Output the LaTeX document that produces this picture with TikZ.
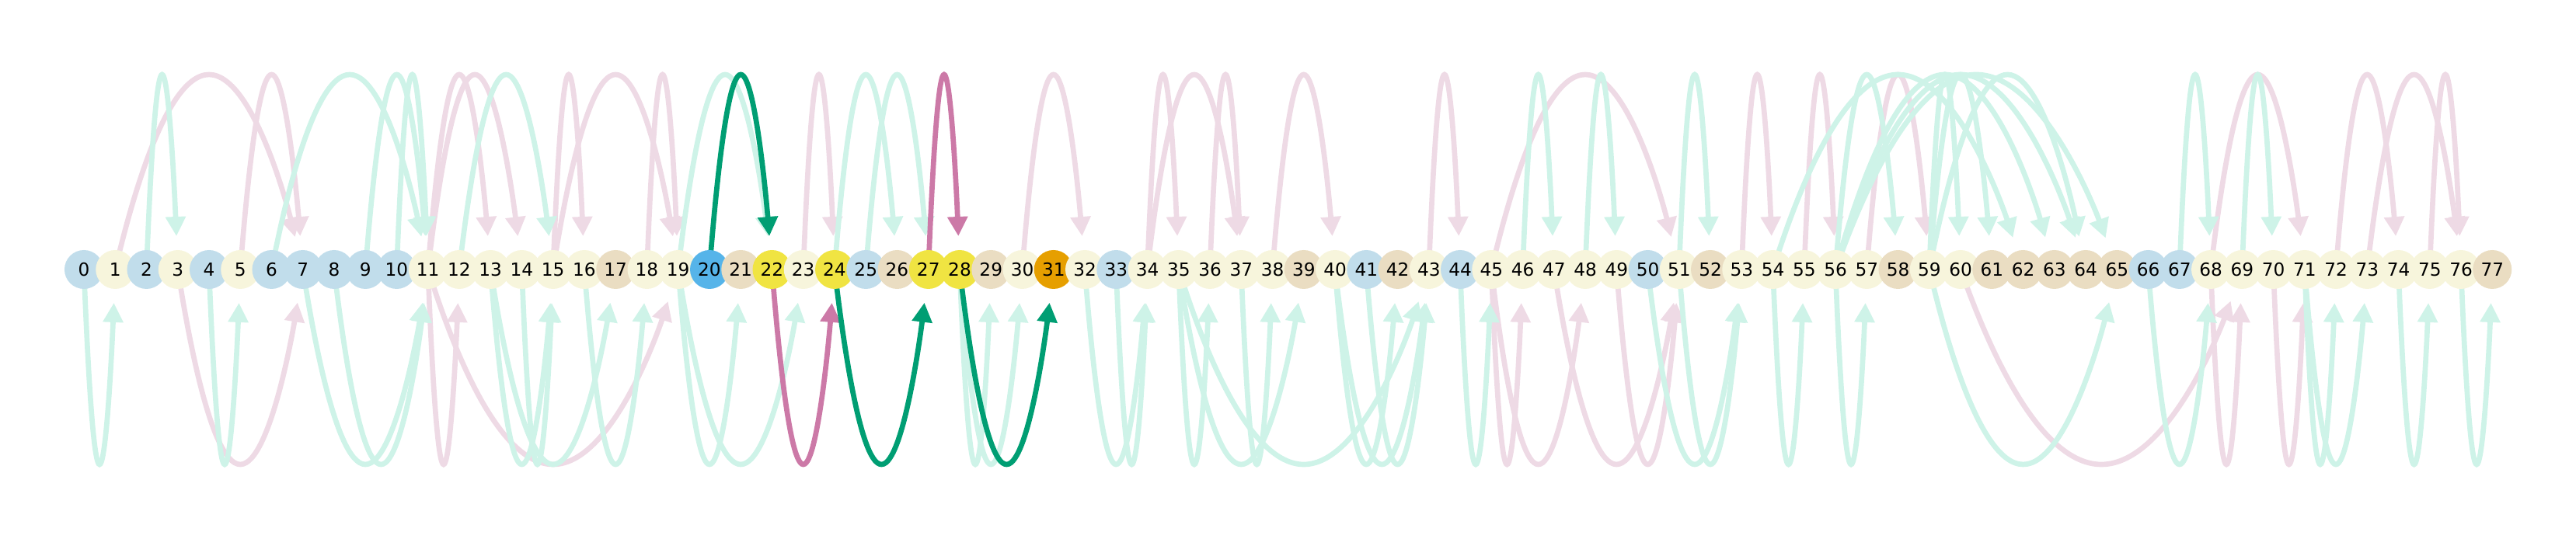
\documentclass[tikz,border=0pt]{standalone}
\usepackage{fontspec}
\setmainfont{DejaVu Sans}
\usetikzlibrary{arrows.meta,calc,backgrounds}

\definecolor{paleblue}{HTML}{C1DDEB}
\definecolor{paleyellow}{HTML}{F7F5DC}
\definecolor{sand}{HTML}{EADDC2}
\definecolor{skyblue}{HTML}{56B4E9}
\definecolor{lemon}{HTML}{F0E442}
\definecolor{amber}{HTML}{E69F00}
\definecolor{mint}{HTML}{CEF3E8}
\definecolor{blush}{HTML}{EEDAE5}
\definecolor{bluishgreen}{HTML}{009E73}
\definecolor{reddishpurple}{HTML}{CC79A7}

\tikzset{
  nd/.style={circle, minimum size=5mm, inner sep=0pt, font=\fontsize{6.6}{8}\selectfont},
  pb/.style={nd, fill=paleblue},
  py/.style={nd, fill=paleyellow},
  sd/.style={nd, fill=sand},
  sk/.style={nd, fill=skyblue},
  lm/.style={nd, fill=lemon},
  am/.style={nd, fill=amber},
  link/.style={line width=0.67mm, shorten >=4.3mm, -{Triangle[length=2.5mm,width=2.5mm]}},
  arcup/.style={link, to path={(\tikztostart.center) parabola bend ($(\tikztostart)!0.5!(\tikztotarget)+(0,2.51)$) (\tikztotarget.center)}},
  arcdn/.style={link, to path={(\tikztostart.center) parabola bend ($(\tikztostart)!0.5!(\tikztotarget)+(0,-2.51)$) (\tikztotarget.center)}},
}

\begin{document}
\begin{tikzpicture}[x=4.025mm, y=1cm]
  \useasboundingbox (-2.683,-3.47) rectangle (79.677,3.47);
  \draw
    (0,0) node[pb] (0){0}
    (1,0) node[py] (1){1}
    (2,0) node[pb] (2){2}
    (3,0) node[py] (3){3}
    (4,0) node[pb] (4){4}
    (5,0) node[py] (5){5}
    (6,0) node[pb] (6){6}
    (7,0) node[pb] (7){7}
    (8,0) node[pb] (8){8}
    (9,0) node[pb] (9){9}
    (10,0) node[pb] (10){10}
    (11,0) node[py] (11){11}
    (12,0) node[py] (12){12}
    (13,0) node[py] (13){13}
    (14,0) node[py] (14){14}
    (15,0) node[py] (15){15}
    (16,0) node[py] (16){16}
    (17,0) node[sd] (17){17}
    (18,0) node[py] (18){18}
    (19,0) node[py] (19){19}
    (20,0) node[sk] (20){20}
    (21,0) node[sd] (21){21}
    (22,0) node[lm] (22){22}
    (23,0) node[py] (23){23}
    (24,0) node[lm] (24){24}
    (25,0) node[pb] (25){25}
    (26,0) node[sd] (26){26}
    (27,0) node[lm] (27){27}
    (28,0) node[lm] (28){28}
    (29,0) node[sd] (29){29}
    (30,0) node[py] (30){30}
    (31,0) node[am] (31){31}
    (32,0) node[py] (32){32}
    (33,0) node[pb] (33){33}
    (34,0) node[py] (34){34}
    (35,0) node[py] (35){35}
    (36,0) node[py] (36){36}
    (37,0) node[py] (37){37}
    (38,0) node[py] (38){38}
    (39,0) node[sd] (39){39}
    (40,0) node[py] (40){40}
    (41,0) node[pb] (41){41}
    (42,0) node[sd] (42){42}
    (43,0) node[py] (43){43}
    (44,0) node[pb] (44){44}
    (45,0) node[py] (45){45}
    (46,0) node[py] (46){46}
    (47,0) node[py] (47){47}
    (48,0) node[py] (48){48}
    (49,0) node[py] (49){49}
    (50,0) node[pb] (50){50}
    (51,0) node[py] (51){51}
    (52,0) node[sd] (52){52}
    (53,0) node[py] (53){53}
    (54,0) node[py] (54){54}
    (55,0) node[py] (55){55}
    (56,0) node[py] (56){56}
    (57,0) node[py] (57){57}
    (58,0) node[sd] (58){58}
    (59,0) node[py] (59){59}
    (60,0) node[py] (60){60}
    (61,0) node[sd] (61){61}
    (62,0) node[sd] (62){62}
    (63,0) node[sd] (63){63}
    (64,0) node[sd] (64){64}
    (65,0) node[sd] (65){65}
    (66,0) node[pb] (66){66}
    (67,0) node[pb] (67){67}
    (68,0) node[py] (68){68}
    (69,0) node[py] (69){69}
    (70,0) node[py] (70){70}
    (71,0) node[py] (71){71}
    (72,0) node[py] (72){72}
    (73,0) node[py] (73){73}
    (74,0) node[py] (74){74}
    (75,0) node[py] (75){75}
    (76,0) node[py] (76){76}
    (77,0) node[sd] (77){77};
  \begin{scope}[on background layer]
    \begin{scope}[blush]
      \draw[arcup] (1) to (7);
      \draw[arcup] (5) to (7);
      \draw[arcup] (11) to (13);
      \draw[arcup] (11) to (14);
      \draw[arcup] (15) to (16);
      \draw[arcup] (15) to (19);
      \draw[arcup] (18) to (19);
      \draw[arcup] (23) to (24);
      \draw[arcup] (30) to (32);
      \draw[arcup] (34) to (35);
      \draw[arcup] (34) to (37);
      \draw[arcup] (36) to (37);
      \draw[arcup] (38) to (40);
      \draw[arcup] (43) to (44);
      \draw[arcup] (45) to (51);
      \draw[arcup] (53) to (54);
      \draw[arcup] (55) to (56);
      \draw[arcup] (57) to (59);
      \draw[arcup] (68) to (71);
      \draw[arcup] (72) to (74);
      \draw[arcup] (73) to (76);
      \draw[arcup] (75) to (76);
      \draw[arcdn] (3) to (7);
      \draw[arcdn] (11) to (12);
      \draw[arcdn] (11) to (19);
      \draw[arcdn] (45) to (46);
      \draw[arcdn] (45) to (48);
      \draw[arcdn] (47) to (51);
      \draw[arcdn] (49) to (51);
      \draw[arcdn] (60) to (69);
      \draw[arcdn] (68) to (69);
      \draw[arcdn] (70) to (71);
    \end{scope}
    \begin{scope}[mint]
      \draw[arcup] (2) to (3);
      \draw[arcup] (6) to (11);
      \draw[arcup] (9) to (11);
      \draw[arcup] (10) to (11);
      \draw[arcup] (12) to (15);
      \draw[arcup] (19) to (22);
      \draw[arcup] (24) to (26);
      \draw[arcup] (25) to (27);
      \draw[arcup] (46) to (47);
      \draw[arcup] (48) to (49);
      \draw[arcup] (51) to (52);
      \draw[arcup] (54) to (62);
      \draw[arcup] (56) to (58);
      \draw[arcup] (56) to (63);
      \draw[arcup] (56) to (64);
      \draw[arcup] (56) to (65);
      \draw[arcup] (59) to (60);
      \draw[arcup] (59) to (61);
      \draw[arcup] (59) to (64);
      \draw[arcup] (67) to (68);
      \draw[arcup] (69) to (70);
      \draw[arcdn] (0) to (1);
      \draw[arcdn] (4) to (5);
      \draw[arcdn] (7) to (11);
      \draw[arcdn] (8) to (11);
      \draw[arcdn] (13) to (15);
      \draw[arcdn] (14) to (15);
      \draw[arcdn] (13) to (17);
      \draw[arcdn] (16) to (18);
      \draw[arcdn] (19) to (21);
      \draw[arcdn] (19) to (23);
      \draw[arcdn] (28) to (29);
      \draw[arcdn] (28) to (30);
      \draw[arcdn] (32) to (34);
      \draw[arcdn] (33) to (34);
      \draw[arcdn] (35) to (36);
      \draw[arcdn] (35) to (39);
      \draw[arcdn] (35) to (43);
      \draw[arcdn] (37) to (38);
      \draw[arcdn] (40) to (42);
      \draw[arcdn] (40) to (43);
      \draw[arcdn] (41) to (43);
      \draw[arcdn] (44) to (45);
      \draw[arcdn] (50) to (53);
      \draw[arcdn] (51) to (53);
      \draw[arcdn] (54) to (55);
      \draw[arcdn] (56) to (57);
      \draw[arcdn] (59) to (65);
      \draw[arcdn] (66) to (68);
      \draw[arcdn] (71) to (72);
      \draw[arcdn] (71) to (73);
      \draw[arcdn] (74) to (75);
      \draw[arcdn] (76) to (77);
    \end{scope}
    % highlighted path
    \draw[arcup, bluishgreen] (20) to (22);
    \draw[arcdn, reddishpurple] (22) to (24);
    \draw[arcdn, bluishgreen] (24) to (27);
    \draw[arcup, reddishpurple] (27) to (28);
    \draw[arcdn, bluishgreen] (28) to (31);
  \end{scope}
\end{tikzpicture}
\end{document}
